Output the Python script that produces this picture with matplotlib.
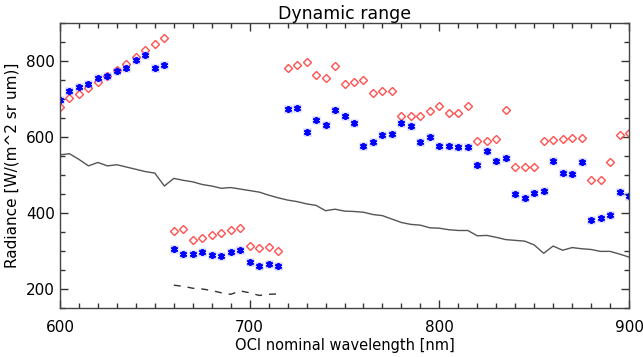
import numpy as np
import matplotlib
matplotlib.use("Agg")
import matplotlib.pyplot as plt
from matplotlib.ticker import MultipleLocator

# ---- data ----
wl_a = [600, 605, 610, 615, 620, 625, 630, 635, 640, 645, 650, 655]
red_a = [678, 702, 714, 730, 746, 761, 777, 792, 810, 830, 845, 861]
blue_a = [697, 722, 731, 740, 756, 761, 775, 782, 803, 816, 781, 789]

wl_b = [660, 665, 670, 675, 680, 685, 690, 695, 700, 705, 710, 715]
red_b = [352, 357, 328, 333, 341, 347, 354, 360, 313, 307, 311, 299]
blue_b = [305, 292, 292, 298, 290, 286, 298, 302, 271, 260, 266, 260]
dash_b = [210, 207, 202, 200, 196, 190, 186, 195, 190, 183, 186, 187]

wl_c = [720, 725, 730, 735, 740, 745, 750, 755, 760, 765, 770, 775, 780, 785,
        790, 795, 800, 805, 810, 815, 820, 825, 830, 835, 840, 845, 850, 855,
        860, 865, 870, 875, 880, 885, 890, 895, 900]
red_c = [782, 789, 797, 764, 754, 786, 740, 746, 749, 715, 721, 722, 656, 656,
         656, 668, 681, 664, 664, 681, 590, 590, 595, 670, 522, 522, 522, 589,
         593, 595, 597, 597, 486, 486, 535, 604, 611]
blue_c = [675, 677, 612, 644, 632, 672, 654, 637, 577, 587, 606, 609, 637, 628,
          587, 599, 577, 577, 575, 575, 527, 562, 537, 544, 450, 439, 452, 459,
          536, 505, 503, 535, 382, 386, 394, 454, 445]

wl_line = list(range(600, 905, 5))
rad_line = [553, 556, 541, 524, 533, 524, 527, 521, 515, 509, 505, 471,
            491, 486, 482, 475, 471, 465, 467, 463, 459, 455, 447, 440,
            434, 430, 424, 420, 406, 410, 405, 404, 402, 396, 393, 384,
            375, 370, 368, 361, 360, 356, 354, 354, 340, 341, 336, 330,
            328, 326, 316, 294, 313, 302, 309, 306, 304, 299, 299, 292, 284]

title = "Dynamic range"
xlabel = "OCI nominal wavelength [nm]"
ylabel = "Radiance [W/(m^2 sr um)]"

plt.rcParams['font.family'] = ['DejaVu Sans']
fig = plt.figure(figsize=(6.43, 3.57), dpi=100)
ax = fig.add_axes([60/643, 1-308/357, (629-60)/643, (308-23)/357])

red = '#ff5050'
blue = '#0000ff'
ax.plot(wl_line, rad_line, color='#555555', lw=1.0)
ax.plot(wl_b, dash_b, color='#333333', lw=1.0, ls=(0, (5, 5)))

for w, r in [(wl_a, red_a), (wl_b, red_b), (wl_c, red_c)]:
    ax.plot(w, r, ls='none', marker='D', ms=3.8, mfc='none', mec=red, mew=1.0)
for w, b in [(wl_a, blue_a), (wl_b, blue_b), (wl_c, blue_c)]:
    ax.plot(w, b, ls='none', marker='s', ms=5.5, mfc='#6f6fff', mec='none', alpha=0.35)
    ax.plot(w, b, ls='none', marker=(6, 2, 0), ms=5, mec=blue, mew=1.3, color=blue)

ax.set_xlim(600, 900)
ax.set_ylim(150, 900)
ax.set_xticks([600, 700, 800, 900])
ax.set_yticks([200, 400, 600, 800])
ax.xaxis.set_minor_locator(MultipleLocator(10))
ax.yaxis.set_minor_locator(MultipleLocator(50))
ax.tick_params(which='both', direction='in', top=True, right=True, labelsize=11, color='#333333')
ax.tick_params(which='major', length=6, width=1)
ax.tick_params(which='minor', length=3.5, width=1)
ax.tick_params(axis='x', pad=9)
for s in ax.spines.values():
    s.set_color('#444444')
    s.set_linewidth(1.0)

ax.set_title(title, fontsize=12.5, pad=3)
ax.set_xlabel(xlabel, fontsize=10.5, labelpad=2)
ax.set_ylabel(ylabel, fontsize=11, labelpad=5)

fig.savefig("out.png", dpi=100)
